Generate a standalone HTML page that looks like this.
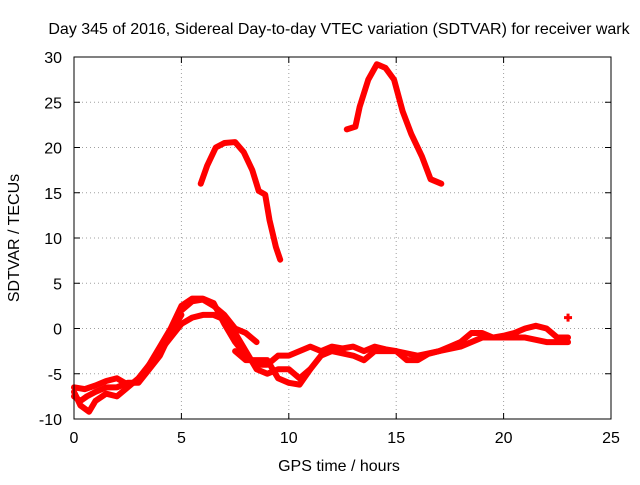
<!DOCTYPE html>
<html><head><meta charset="utf-8"><style>
body{margin:0;background:#fff}
svg text{font-family:"Liberation Sans",sans-serif;font-size:16px;fill:#000}
</style></head><body>
<svg width="640" height="480" xmlns="http://www.w3.org/2000/svg">
<rect width="640" height="480" fill="#fff"/>
<g id="grid"></g>
<g id="series"></g>
<rect x="74" y="57" width="537" height="362" fill="none" stroke="#000" stroke-width="1"/>
<g id="ticks"></g>
<text x="339" y="34" text-anchor="middle">Day 345 of 2016, Sidereal Day-to-day VTEC variation (SDTVAR) for receiver wark</text>
<text x="339" y="471" text-anchor="middle">GPS time / hours</text>
<text transform="translate(19,238) rotate(-90)" text-anchor="middle">SDTVAR / TECUs</text>
</svg>
<script>
const xTicks=[0,5,10,15,20,25];
const yTicks=[-10,-5,0,5,10,15,20,25,30];
const arc1=[[5.9,16],[6.2,18],[6.6,20],[7,20.5],[7.5,20.6],[7.9,19.5],[8.3,17.5],[8.6,15.2],[8.9,14.8],[9.1,12],[9.4,9],[9.6,7.6]];
const arc2=[[12.7,22],[13.1,22.3],[13.3,24.5],[13.7,27.5],[14.1,29.2],[14.5,28.8],[14.9,27.5],[15.3,24],[15.7,21.5],[16.2,19],[16.6,16.5],[17.1,16]];
const strandA=[[0,-7],[0.3,-8.5],[0.7,-9.2],[1,-8],[1.5,-7.2],[2,-7.5],[2.5,-6.5],[3,-5.5],[3.5,-4],[4,-2.5],[4.5,-1],[5,0.5],[5.5,1.2],[6,1.5],[6.5,1.5],[7,1],[7.5,-0.5],[8,-2.5],[8.5,-4.5],[9,-5],[9.5,-4.5],[10,-4.5],[10.5,-5.5],[11,-4.5]];
const strandB=[[0,-6.5],[0.5,-6.7],[1,-6.3],[1.5,-5.8],[2,-5.5],[2.5,-6.2],[3,-5.8],[3.5,-4],[4,-2],[4.5,0],[5,2.5],[5.5,3.3],[6,3.3],[6.5,2.8],[7,0.5],[7.5,-1.5],[8,-3],[8.5,-4],[9,-4],[9.5,-3],[10,-3],[10.5,-2.5],[11,-2],[11.5,-2.5],[12,-2],[12.5,-2.2],[13,-2],[13.5,-2.5],[14,-2],[14.5,-2.3],[15,-2.5],[15.5,-3.5],[16,-3.5],[16.5,-2.8],[17,-2.5],[17.5,-2],[18,-1.5],[18.5,-0.5],[19,-0.5],[19.5,-1],[20,-0.8],[20.5,-0.5],[21,0],[21.5,0.3],[22,0],[22.5,-1],[23,-1]];
const strandC=[[5,2],[5.5,3],[6,3.2],[6.5,2.5],[7,1.5],[7.5,0],[8,-0.5],[8.5,-1.5]];
const strandD=[[7.5,-2.5],[8,-3.5],[9,-3.5],[9.5,-5.5],[10,-6],[10.5,-6.2],[11,-4.5],[11.5,-3],[12,-2.5],[13,-3],[13.5,-3.5],[14,-2.5],[15,-2.5],[16,-3],[17,-2.5],[18,-2],[19,-1],[20,-1],[21,-1],[22,-1.5],[23,-1.5]];
const strandE=[[0,-7.5],[0.3,-8],[0.6,-7.5],[1,-7],[1.5,-6.5],[2,-6.5],[2.5,-6],[3,-6],[3.5,-4.5],[4,-3],[4.5,-0.5],[5,1.5]];
const isolated=[[23,1.2]];
const X=v=>74+v*537/25, Y=v=>419-(v+10)*362/40;
const ns="http://www.w3.org/2000/svg";
const g=document.getElementById('grid'),t=document.getElementById('ticks'),s=document.getElementById('series');
function mk(tag,a,p){const e=document.createElementNS(ns,tag);for(const k in a)e.setAttribute(k,a[k]);p.appendChild(e);return e;}
xTicks.forEach(v=>{
 if(v>0&&v<25){const l=mk('line',{x1:X(v),x2:X(v),y1:57,y2:419,stroke:'#a0a0a0','stroke-dasharray':'1,3'},g);}
 mk('line',{x1:X(v),x2:X(v),y1:419,y2:413,stroke:'#000'},t);mk('line',{x1:X(v),x2:X(v),y1:57,y2:63,stroke:'#000'},t);
 const tx=mk('text',{x:X(v),y:443,'text-anchor':'middle'},t);tx.textContent=v;
 
});
yTicks.forEach(v=>{
 if(v>-10&&v<30){const l=mk('line',{x1:74,x2:611,y1:Y(v),y2:Y(v),stroke:'#a0a0a0','stroke-dasharray':'1,3'},g);}
 mk('line',{x1:74,x2:80,y1:Y(v),y2:Y(v),stroke:'#000'},t);mk('line',{x1:605,x2:611,y1:Y(v),y2:Y(v),stroke:'#000'},t);
 const tx=mk('text',{x:62,y:Y(v)+6,'text-anchor':'end'},t);tx.textContent=v;
 
});
[arc1,arc2,strandA,strandB,strandC,strandD,strandE].forEach(arr=>{
 const pl=mk('polyline',{points:arr.map(p=>X(p[0])+','+Y(p[1])).join(' '),fill:'none',stroke:'#ff0000','stroke-width':6,'stroke-linejoin':'round','stroke-linecap':'round'},s);
 
 
});
isolated.forEach(p=>{
 const c=mk('path',{d:`M${X(p[0])-4},${Y(p[1])}h8M${X(p[0])},${Y(p[1])-4}v8`,stroke:'#ff0000','stroke-width':3},s);
 
 
});
</script>
</body></html>
